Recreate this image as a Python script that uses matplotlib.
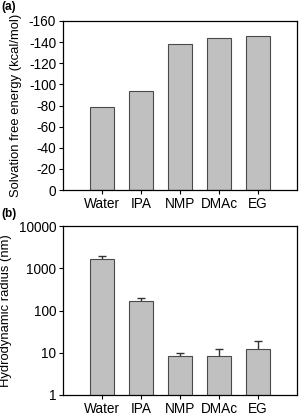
import numpy as np
import matplotlib.pyplot as plt
from matplotlib.ticker import FixedLocator

plt.rcParams['font.family'] = ['Liberation Sans', 'DejaVu Sans']
plt.rcParams['font.size'] = 9
plt.rcParams['axes.unicode_minus'] = False

# solvents and measured values
solvents = ['Water', 'IPA', 'NMP', 'DMAc', 'EG']
solv_energy = [-79, -94, -138, -144, -146]
hyd_radius = [1630, 171, 8.5, 8.5, 12.3]
hyd_err = [360, 30, 1.5, 3.5, 6.3]

bar_color = '#c0c0c0'
edge_color = '#4a4a4a'
x = np.arange(len(solvents))

fig = plt.figure(figsize=(3.01, 4.18), dpi=100)
ax1 = fig.add_axes([63/301, 1-190/418, 234/301, 169/418])
ax2 = fig.add_axes([63/301, 1-395/418, 234/301, 169/418])

# (a) solvation free energy
ax1.bar(x, solv_energy, width=0.62, color=bar_color, edgecolor=edge_color, linewidth=0.8)
ax1.set_xlim(-1, 5)
ax1.set_ylim(0, -160)
ax1.set_yticks(np.arange(0, -161, -20))
ax1.set_xticks(x)
ax1.set_xticklabels(solvents)
ax1.set_ylabel('Solvation free energy (kcal/mol)', fontsize=9.4, labelpad=5)

# (b) hydrodynamic radius, log scale, upper error bars only
ax2.bar(x, hyd_radius, width=0.62, color=bar_color, edgecolor=edge_color, linewidth=0.8, zorder=2)
eb = ax2.errorbar(x, hyd_radius, yerr=[np.zeros(len(hyd_err)), hyd_err], fmt='none',
                  ecolor='#333333', elinewidth=1, capsize=3, capthick=1, zorder=1)
eb[1][0].set_visible(False)
ax2.set_yscale('log')
ax2.set_xlim(-1, 5)
ax2.set_ylim(1, 10000)
ax2.yaxis.set_major_locator(FixedLocator([1, 10, 100, 1000, 10000]))
ax2.set_yticklabels(['1', '10', '100', '1000', '10000'])
ax2.minorticks_off()
ax2.set_xticks(x)
ax2.set_xticklabels(solvents)
ax2.set_ylabel('Hydrodynamic radius (nm)', fontsize=9.4, labelpad=5)

for ax in (ax1, ax2):
    ax.tick_params(direction='out', length=3, width=0.8, pad=2, labelsize=9.8)
    for s in ax.spines.values():
        s.set_linewidth(0.9)

fig.text(0.003, 1-7/418, '(a)', fontsize=8.5, fontweight='bold', va='center')
fig.text(0.003, 1-214/418, '(b)', fontsize=8.5, fontweight='bold', va='center')

fig.savefig('out.png', dpi=100)
